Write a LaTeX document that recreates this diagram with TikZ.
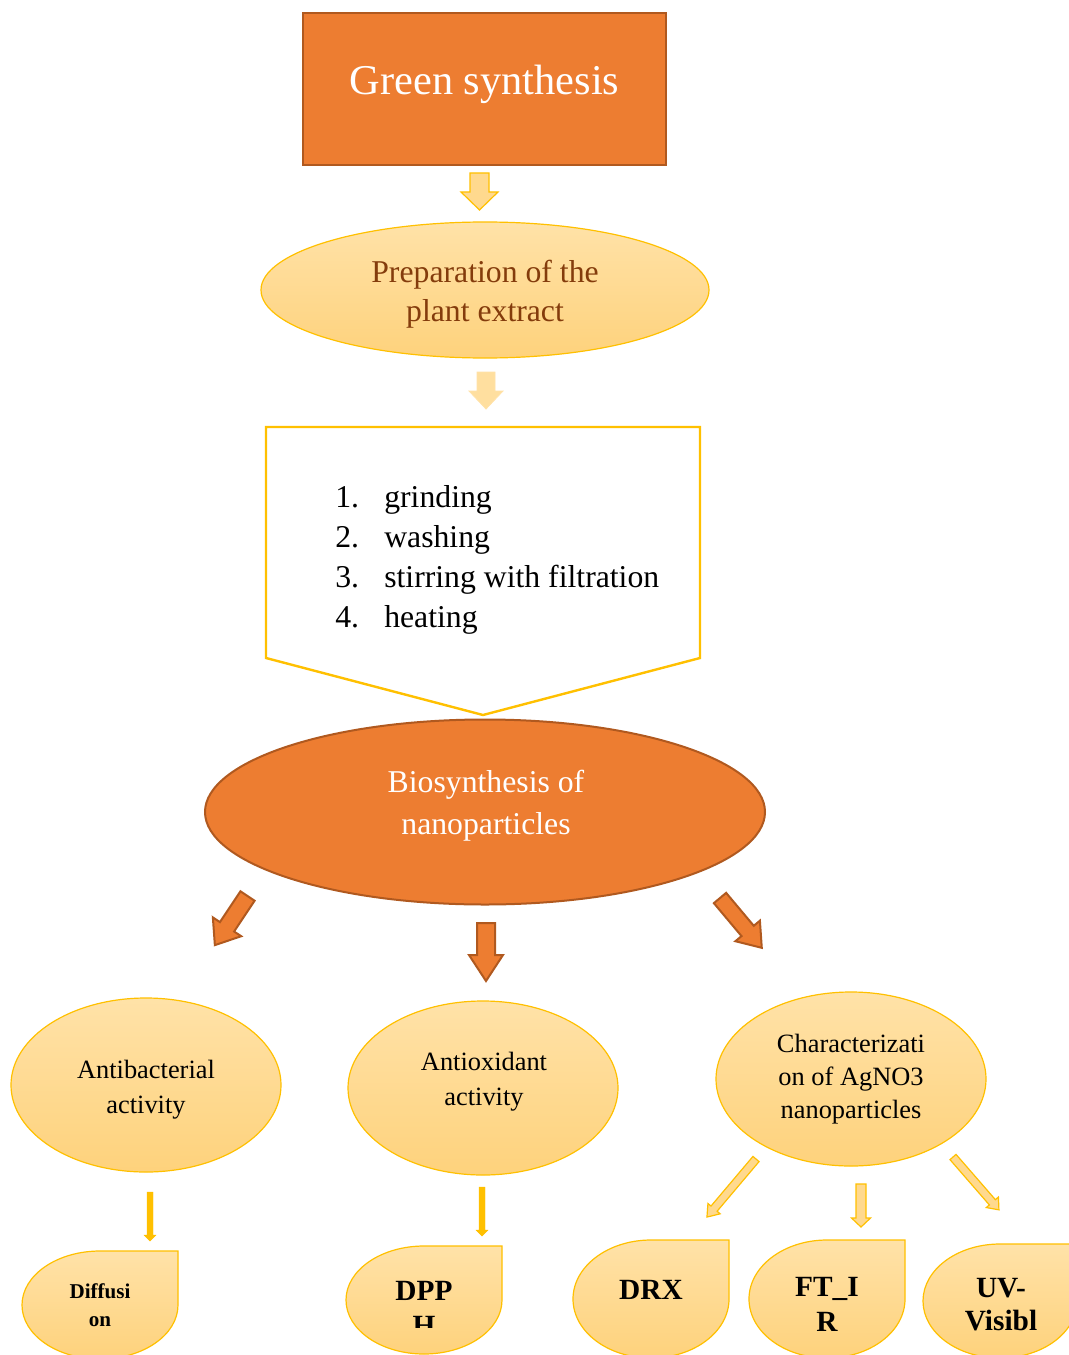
\documentclass[tikz,border=0pt]{standalone}
\usepackage{fontspec}
\setmainfont{Liberation Serif}
\usetikzlibrary{shapes.geometric}
\definecolor{orangeF}{HTML}{ED7D31}
\definecolor{orangeD}{HTML}{B0591F}
\definecolor{gold}{HTML}{FFC000}
\definecolor{peachT}{HTML}{FFE2A8}
\definecolor{peachB}{HTML}{FED27C}
\definecolor{peach}{HTML}{FFD98E}
\definecolor{brownT}{HTML}{843C0C}
% block arrow: style, tail, angle, length, shaft half width, head half width, head length
\newcommand{\blockarrow}[7][]{%
  \draw[#1,shift={#2},rotate=#3]
    (0,-#5) -- ({#4-#7},-#5) -- ({#4-#7},-#6) -- (#4,0)
    -- ({#4-#7},#6) -- ({#4-#7},#5) -- (0,#5) -- cycle;}
% drop shape with square top right corner: style, right x, top y, x radius, y radius
\newcommand{\dropshape}[5][]{%
  \path[#1] ({#2},{#3+#5}) arc[start angle=0,end angle=270,x radius=#4,y radius=#5]
    -- ({#2},{#3}) -- cycle;}
\tikzset{x=0.75pt,y=-0.75pt,
  titlebox/.style={draw=orangeD,line width=1.5pt,fill=orangeF,text=white,
    minimum width=272pt,minimum height=114pt,inner sep=0pt,text depth=14pt,
    font=\fontsize{31.8}{38}\selectfont},
  oval/.style={ellipse,draw=gold,line width=0.9pt,top color=peachT,
    bottom color=peachB,inner sep=0pt,align=center,
    minimum width=202.5pt,minimum height=130.5pt,
    font=\fontsize{19.8}{26.25}\selectfont},
  ovaltext/.style={align=center,inner sep=0pt,font=\fontsize{19.8}{26.25}\selectfont},
  bigoval/.style={ellipse,draw=orangeD,line width=1.5pt,fill=orangeF,
    inner sep=0pt,minimum width=420pt,minimum height=138.75pt},
  pentline/.style={draw=gold,line width=1.8pt,line join=miter},
  steps/.style={align=left,inner sep=0pt,font=\fontsize{23.8}{30}\selectfont},
  droppath/.style={draw=gold,line width=0.9pt,top color=peachT,bottom color=peachB},
  droptext/.style={align=center,inner sep=0pt,font=\bfseries\fontsize{22}{26.25}\selectfont},
  orangearrow/.style={draw=orangeD,line width=1.5pt,fill=orangeF,line join=miter},
  lightarrow/.style={draw=gold,line width=0.9pt,fill=peach,line join=miter},
  softarrow/.style={draw=peachT,line width=0.6pt,fill=peachT!80!peachB},
  goldfill/.style={draw=gold,line width=0.3pt,fill=gold}}

\begin{document}
\begin{tikzpicture}
\clip (0,0) rectangle (1069,1355);
\fill[white] (0,0) rectangle (1069,1355);
% top of the chart
\node[titlebox] (green) at (484.5,89) {Green synthesis};
\blockarrow[lightarrow]{(479.5,173)}{-90}{37}{9.5}{18.5}{18}
\node[oval,minimum width=336pt,minimum height=102pt] (extract) at (485,290) {};
\node[ovaltext,text=brownT,font=\fontsize{23.8}{29.25}\selectfont]
  (extracttext) at (485,294) {Preparation of the\\plant extract};
\blockarrow[softarrow]{(486,372)}{-90}{37}{9}{17}{18}
% steps
\draw[pentline] (266,427) -- (700,427) -- (700,658) -- (483,715) -- (266,658) -- cycle;
\node[steps,anchor=west] (steps) at (335,560)
  {\makebox[36.75pt][l]{1.}grinding\\
   \makebox[36.75pt][l]{2.}washing\\
   \makebox[36.75pt][l]{3.}stirring with filtration\\
   \makebox[36.75pt][l]{4.}heating};
% biosynthesis
\node[bigoval] (bio) at (485,812) {};
\node[ovaltext,text=white,font=\fontsize{23.8}{31.5}\selectfont]
  (biotext) at (486,806) {Biosynthesis of\\nanoparticles};
\blockarrow[orangearrow]{(247.5,896)}{-123.6}{59}{8.5}{17}{22}
\blockarrow[orangearrow]{(486,923)}{-90}{58}{9}{17}{26}
\blockarrow[orangearrow]{(720,898)}{-50}{65}{8}{16}{22}
% applications
\node[oval] (antib) at (146,1085) {};
\node[ovaltext] (antibtext) at (146,1090) {Antibacterial\\activity};
\node[oval] (antiox) at (483,1088) {};
\node[ovaltext] (antioxtext) at (484,1082) {Antioxidant\\activity};
\node[oval,font=\fontsize{19.8}{24.75}\selectfont] (charac) at (851,1079)
  {Characterizati\\on of AgNO3\\nanoparticles};
\blockarrow[goldfill]{(150,1192)}{-90}{49}{3}{6}{6}
\blockarrow[goldfill]{(482,1187)}{-90}{49}{3}{6}{6}
\blockarrow[lightarrow]{(756,1159)}{-130.2}{76}{4}{8}{11}
\blockarrow[lightarrow]{(861,1184)}{-90}{43}{5}{9.5}{9}
\blockarrow[lightarrow]{(953,1157)}{-49}{70}{4}{8}{10}
% methods
\dropshape[droppath]{178}{1251}{78}{54}
\dropshape[droppath]{502}{1246}{78}{54}
\dropshape[droppath]{729}{1240}{78}{59}
\dropshape[droppath]{905}{1240}{78}{59}
\dropshape[droppath]{1077}{1244}{77}{57}
\node[droptext,font=\bfseries\fontsize{15.8}{21}\selectfont] (diff) at (100,1305)
  {Diffusi\\on};
\begin{scope}
  \clip (340,1240) rectangle (510,1327);
  \node[droptext] (dpph) at (424,1308.5) {DPP\\H};
\end{scope}
\node[droptext] (drx) at (651,1290) {DRX};
\node[droptext] (ftir) at (827,1304.5) {FT\_I\\R};
\node[droptext,font=\bfseries\fontsize{22}{24.75}\selectfont] (uv) at (1001,1304.5)
  {UV-\\Visibl};
\end{tikzpicture}
\end{document}
